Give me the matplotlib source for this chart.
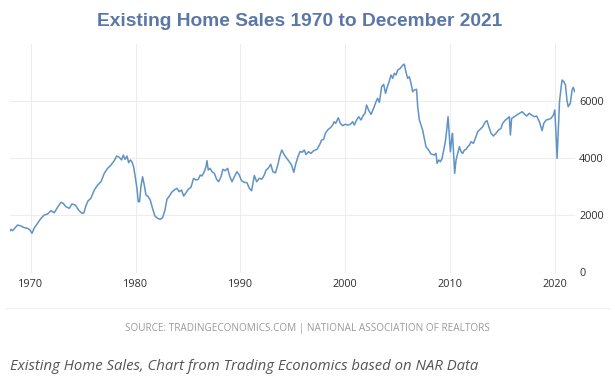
import numpy as np
import matplotlib
matplotlib.use("Agg")
import matplotlib.pyplot as plt
from matplotlib.lines import Line2D

# values (year, thousands of units, SAAR)
YEARS = [
    1967.93, 1968.09, 1968.25, 1968.72, 1969.04, 1969.36, 1969.68, 1969.90,
    1970.10, 1970.30, 1970.63, 1970.96, 1971.27, 1971.59, 1971.91, 1972.23,
    1972.54, 1972.87, 1973.08, 1973.34, 1973.66, 1973.91, 1974.23, 1974.55,
    1974.87, 1975.05, 1975.25, 1975.45, 1975.72, 1976.05, 1976.37, 1976.69,
    1977.00, 1977.32, 1977.64, 1977.95, 1978.18, 1978.44, 1978.66, 1978.82,
    1978.98, 1979.17, 1979.33, 1979.49, 1979.64, 1979.80, 1979.96, 1980.12,
    1980.25, 1980.37, 1980.50, 1980.66, 1980.82, 1980.98, 1981.20, 1981.39,
    1981.61, 1981.84, 1982.09, 1982.35, 1982.57, 1982.80, 1982.99, 1983.20,
    1983.43, 1983.69, 1983.94, 1984.16, 1984.38, 1984.58, 1984.81, 1985.02,
    1985.28, 1985.53, 1985.76, 1985.98, 1986.17, 1986.33, 1986.55, 1986.71,
    1986.81, 1986.93, 1987.10, 1987.29, 1987.51, 1987.73, 1987.92, 1988.15,
    1988.33, 1988.55, 1988.78, 1988.97, 1989.20, 1989.42, 1989.67, 1989.89,
    1990.11, 1990.37, 1990.63, 1990.85, 1991.07, 1991.33, 1991.55, 1991.80,
    1992.05, 1992.28, 1992.45, 1992.65, 1992.90, 1993.10, 1993.35, 1993.60,
    1993.75, 1993.95, 1994.20, 1994.40, 1994.67, 1994.90, 1995.10, 1995.30,
    1995.50, 1995.70, 1995.90, 1996.10, 1996.26, 1996.50, 1996.74, 1997.00,
    1997.32, 1997.55, 1997.76, 1997.95, 1998.11, 1998.33, 1998.60, 1998.81,
    1998.95, 1999.10, 1999.35, 1999.54, 1999.76, 2000.00, 2000.25, 2000.50,
    2000.72, 2000.88, 2001.10, 2001.29, 2001.52, 2001.71, 2001.90, 2002.05,
    2002.24, 2002.48, 2002.72, 2002.95, 2003.10, 2003.27, 2003.49, 2003.68,
    2003.86, 2004.03, 2004.22, 2004.38, 2004.54, 2004.70, 2004.86, 2005.02,
    2005.27, 2005.49, 2005.65, 2005.80, 2005.97, 2006.13, 2006.29, 2006.45,
    2006.60, 2006.82, 2006.93, 2007.09, 2007.25, 2007.40, 2007.56, 2007.72,
    2007.97, 2008.20, 2008.52, 2008.68, 2008.78, 2008.94, 2009.10, 2009.26,
    2009.41, 2009.57, 2009.70, 2009.83, 2009.96, 2010.05, 2010.15, 2010.25,
    2010.35, 2010.46, 2010.59, 2010.75, 2010.91, 2011.07, 2011.23, 2011.39,
    2011.55, 2011.71, 2011.87, 2012.03, 2012.25, 2012.44, 2012.66, 2012.89,
    2013.14, 2013.39, 2013.55, 2013.72, 2013.94, 2014.15, 2014.40, 2014.65,
    2014.89, 2015.04, 2015.30, 2015.52, 2015.68, 2015.78, 2015.90, 2016.16,
    2016.38, 2016.64, 2016.90, 2017.12, 2017.34, 2017.59, 2017.81, 2018.07,
    2018.29, 2018.55, 2018.81, 2018.97, 2019.20, 2019.44, 2019.66, 2019.89,
    2020.02, 2020.15, 2020.24, 2020.37, 2020.47, 2020.63, 2020.72, 2020.88,
    2021.04, 2021.18, 2021.30, 2021.50, 2021.67, 2021.78, 2021.92,
]
SALES = [
    1425, 1509, 1460, 1659, 1624, 1565, 1544, 1485,
    1369, 1544, 1718, 1893, 2008, 2043, 2159, 2089,
    2277, 2452, 2417, 2298, 2242, 2393, 2358, 2183,
    2068, 2080, 2330, 2500, 2592, 2882, 3056, 3172,
    3465, 3640, 3755, 3905, 4069, 4024, 3930, 4104,
    3954, 4069, 3835, 3930, 3870, 3696, 3346, 2941,
    2473, 2473, 2997, 3346, 3056, 2707, 2648, 2532,
    2242, 1974, 1893, 1858, 1914, 2183, 2560, 2660,
    2800, 2882, 2941, 2822, 2882, 2672, 2788, 2906,
    2976, 3290, 3231, 3255, 3406, 3371, 3521, 3696,
    3905, 3580, 3640, 3521, 3465, 3255, 3172, 3346,
    3605, 3556, 3640, 3371, 3172, 3346, 3521, 3406,
    3207, 3150, 3137, 2941, 2857, 3390, 3170, 3290,
    3260, 3406, 3580, 3640, 3780, 3520, 3480, 3800,
    4050, 4279, 4104, 4000, 3870, 3740, 3500, 3814,
    4050, 4230, 4200, 4279, 4120, 4220, 4163, 4254,
    4303, 4454, 4628, 4653, 4862, 4978, 5060, 5152,
    5268, 5211, 5407, 5211, 5128, 5177, 5152, 5177,
    5268, 5152, 5327, 5442, 5327, 5477, 5560, 5851,
    5676, 5525, 5735, 5966, 6085, 5944, 6490, 6573,
    6259, 6490, 6689, 6899, 6783, 6958, 6899, 7073,
    7133, 7240, 7280, 7014, 6783, 6839, 6609, 6315,
    6375, 6399, 5791, 5327, 5152, 4978, 4687, 4394,
    4279, 4139, 4104, 4163, 3814, 3930, 3870, 3989,
    4279, 4569, 4978, 5442, 4743, 4220, 4569, 4862,
    4163, 3465, 3930, 4163, 4394, 4220, 4163, 4279,
    4303, 4394, 4454, 4569, 4513, 4687, 4918, 5002,
    5093, 5268, 5303, 5093, 4862, 4768, 4862, 4978,
    5037, 5211, 5327, 5386, 5442, 4803, 5386, 5442,
    5501, 5560, 5617, 5537, 5467, 5560, 5501, 5442,
    5467, 5268, 4953, 5211, 5327, 5351, 5386, 5501,
    5676, 4743, 3989, 5093, 5966, 6490, 6724, 6665,
    6550, 6026, 5791, 5910, 6375, 6469, 6315,
]

X_TICKS = [1970, 1980, 1990, 2000, 2010, 2020]
Y_TICKS = [0, 2000, 4000, 6000]

TITLE = "Existing Home Sales 1970 to December 2021"
SOURCE = "SOURCE: TRADINGECONOMICS.COM | NATIONAL ASSOCIATION OF REALTORS"
CAPTION = "Existing Home Sales, Chart from Trading Economics based on NAR Data"

LINE_COL = "#5f93c6"
GRID_COL = "#ededed"


def main():
    W, H = 615, 381
    fig = plt.figure(figsize=(W / 100, H / 100), dpi=100)
    ax = fig.add_axes([10 / W, (H - 272.5) / H, 565 / W, 229 / H])

    ax.plot(YEARS, SALES, color=LINE_COL, lw=1.1, solid_joinstyle="round")

    ax.set_xlim(1968.0, 2021.95)
    ax.set_ylim(0, 8000)
    ax.set_xticks(X_TICKS)
    ax.set_yticks(Y_TICKS)
    ax.yaxis.tick_right()
    ax.tick_params(length=0, labelsize=7.8, labelcolor="#2e2e2e")
    ax.tick_params(axis="x", pad=5)
    ax.tick_params(axis="y", pad=3)
    for lab in ax.get_xticklabels() + ax.get_yticklabels():
        lab.set_fontfamily("Open Sans")
    for s in ax.spines.values():
        s.set_visible(False)
    ax.grid(True, color=GRID_COL, lw=0.8)
    ax.set_axisbelow(True)

    fig.text(300 / W, 1 - 21 / H, TITLE, ha="center", va="center",
             fontsize=13.8, fontweight="bold", color="#5a77a8",
             family="Liberation Sans")

    fig.add_artist(Line2D([5 / W, 610 / W], [1 - 308 / H, 1 - 308 / H],
                          color="#f0f0f0", lw=0.8))
    fig.text(307 / W, 1 - 328 / H, SOURCE, ha="center", va="center",
             fontsize=7.2, color="#9a9a9a", family="Open Sans")
    fig.text(10 / W, 1 - 366 / H, CAPTION, ha="left", va="center",
             fontsize=10.7, style="italic", color="#555555",
             family="Open Sans")

    fig.savefig("out.png", dpi=100)


if __name__ == "__main__":
    main()
